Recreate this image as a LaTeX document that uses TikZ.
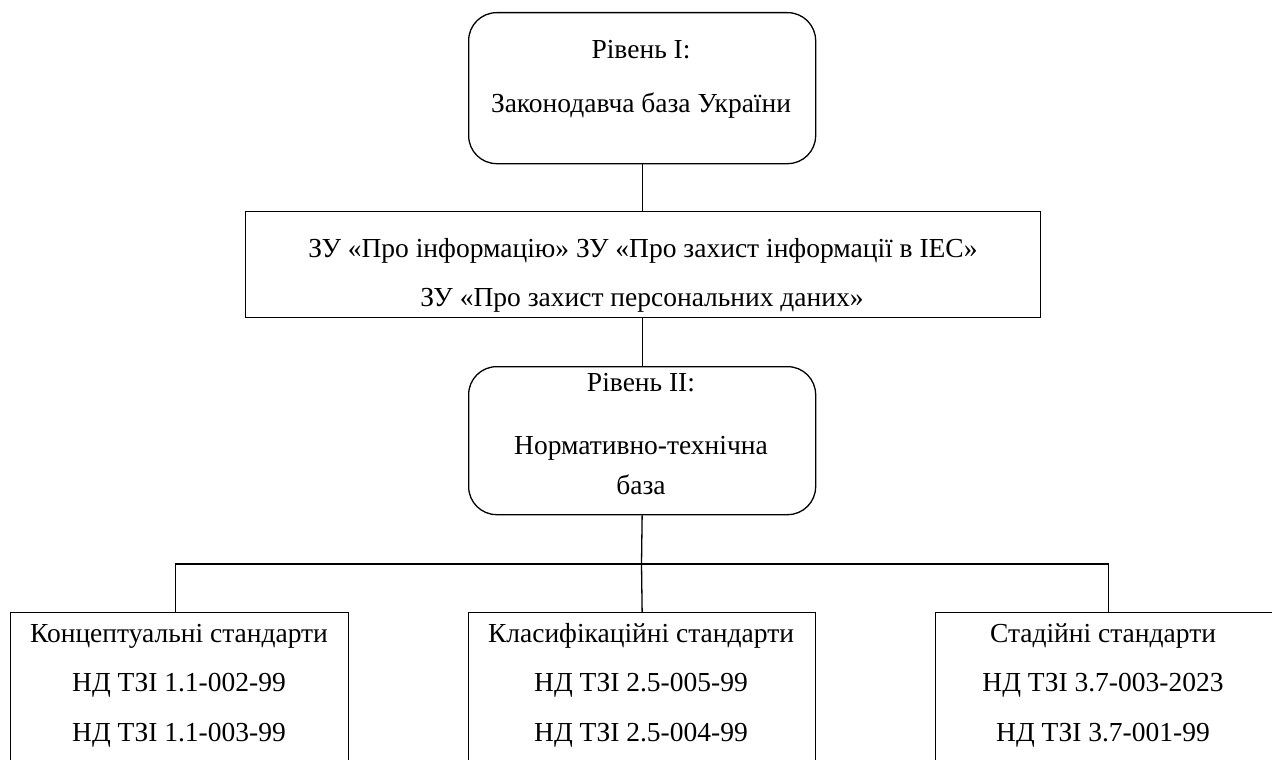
\documentclass[tikz,border=0pt]{standalone}
\usepackage{fontspec}
\setmainfont{Liberation Serif}
\begin{document}
\begin{tikzpicture}[x=1pt,y=-1pt,
  box/.style={draw=black,line width=1.3pt,inner sep=0pt,anchor=north west},
  rbox/.style={box,rounded corners=28pt},
  txt/.style={inner sep=0pt,anchor=base,font=\fontsize{27.5}{32}\selectfont},
  link/.style={draw=black,line width=1.3pt}]
\useasboundingbox (0,0) rectangle (1272,760);
\clip (0,0) rectangle (1272,760);
% boxes
\node[rbox,minimum width=347pt,minimum height=151pt] (l1) at (468,12) {};
\node[box,minimum width=795pt,minimum height=106pt] (zu) at (245,211) {};
\node[rbox,minimum width=347pt,minimum height=148pt] (l2) at (468,366) {};
\node[box,minimum width=338pt,minimum height=190pt] (c1) at (10,612) {};
\node[box,minimum width=347pt,minimum height=190pt] (c2) at (468,612) {};
\node[box,minimum width=346pt,minimum height=190pt] (c3) at (935,612) {};
% texts
\node[txt] (t11) at (641,59) {Рівень I:};
\node[txt] (t12) at (641,112) {Законодавча база України};
\node[txt] (t21) at (643,257) {ЗУ «Про інформацію» ЗУ «Про захист інформації в IEC»};
\node[txt] (t22) at (642,306) {ЗУ «Про захист персональних даних»};
\node[txt] (t31) at (641,391) {Рівень II:};
\node[txt] (t32) at (641,454) {Нормативно-технічна};
\node[txt] (t33) at (641,494) {база};
\node[txt] (a1) at (179,642) {Концептуальні стандарти};
\node[txt] (a2) at (179,691) {НД ТЗІ 1.1-002-99};
\node[txt] (a3) at (179,741) {НД ТЗІ 1.1-003-99};
\node[txt] (b1) at (641,642) {Класифікаційні стандарти};
\node[txt] (b2) at (641,691) {НД ТЗІ 2.5-005-99};
\node[txt] (b3) at (641,741) {НД ТЗІ 2.5-004-99};
\node[txt] (d1) at (1103,642) {Стадійні стандарти};
\node[txt] (d2) at (1103,691) {НД ТЗІ 3.7-003-2023};
\node[txt] (d3) at (1103,741) {НД ТЗІ 3.7-001-99};
% connectors
\coordinate (bus) at (641.5,564);
\draw[link] (l1.south) -- (l1.south |- zu.north);
\draw[link] (zu.south -| l2.north) -- (l2.north);
\draw[link] (l2.south) -- (bus);
\draw[link] ([xshift=-4pt]c1.north) |- (bus) -| (c3.north);
\draw[link] (bus) -- (c2.north);
\end{tikzpicture}
\end{document}
